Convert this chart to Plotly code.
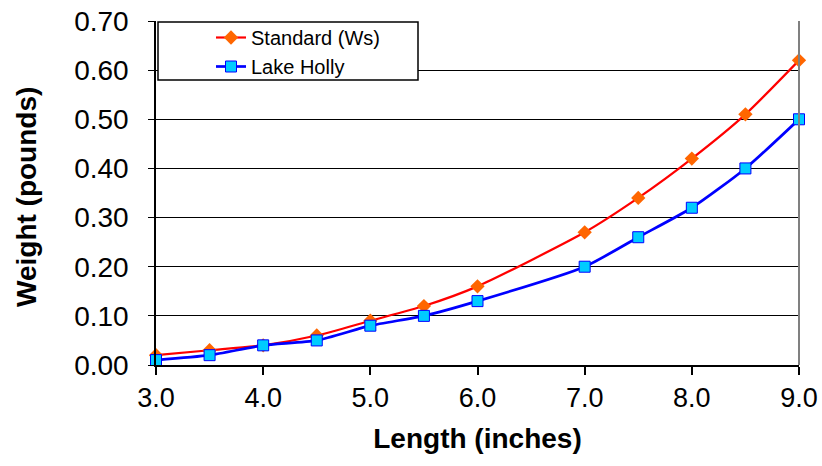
import plotly.graph_objects as go

length = [3.0, 3.5, 4.0, 4.5, 5.0, 5.5, 6.0, 7.0, 7.5, 8.0, 8.5, 9.0]
standard_ws = [0.02, 0.03, 0.04, 0.06, 0.09, 0.12, 0.16, 0.27, 0.34, 0.42, 0.51, 0.62]
lake_holly = [0.01, 0.02, 0.04, 0.05, 0.08, 0.10, 0.13, 0.20, 0.26, 0.32, 0.40, 0.50]

x_ticks = [3, 4, 5, 6, 7, 8, 9]
y_ticks = [0, 0.1, 0.2, 0.3, 0.4, 0.5, 0.6, 0.7]

FONT = "Arial, Liberation Sans, sans-serif"

fig = go.Figure()
fig.add_trace(go.Scatter(
    x=length, y=standard_ws, name="Standard (Ws)", mode="lines+markers",
    line=dict(color="#FF0000", width=2.2, shape="spline", smoothing=0.6),
    marker=dict(symbol="diamond", size=11, color="#FF6600", line=dict(width=0)),
    cliponaxis=False,
))
fig.add_trace(go.Scatter(
    x=length, y=lake_holly, name="Lake Holly", mode="lines+markers",
    line=dict(color="#0000FF", width=2.7, shape="spline", smoothing=0.6),
    marker=dict(symbol="square", size=11, color="#00CCFF", line=dict(color="#0000FF", width=1)),
    cliponaxis=False,
))

# legend box
fig.add_shape(type="rect", xref="paper", yref="paper",
              x0=(158-156)/643, x1=(418-156)/643, y0=(365-80)/344, y1=(365-22)/344,
              line=dict(color="black", width=1.5), fillcolor="white", layer="above")
# right border
fig.add_shape(type="line", xref="paper", yref="paper", x0=1, x1=1, y0=0, y1=1,
              line=dict(color="#808080", width=2))

fig.add_annotation(text="<b>Weight (pounds)</b>", xref="paper", yref="paper",
                   x=(26-156)/643, y=(365-197)/344, textangle=-90, showarrow=False,
                   xanchor="center", yanchor="middle",
                   font=dict(size=28, family=FONT, color="black"))

fig.update_layout(
    width=822, height=466,
    margin=dict(l=156, r=23, t=21, b=101),
    paper_bgcolor="white", plot_bgcolor="white",
    font=dict(family=FONT, color="black"),
    showlegend=True,
    legend=dict(x=(211-156)/643, y=(365-18)/344, xanchor="left", yanchor="top",
                bgcolor="rgba(0,0,0,0)", borderwidth=0,
                font=dict(size=20, family=FONT), tracegroupgap=0, itemwidth=30),
    xaxis=dict(range=[3, 9], tickvals=x_ticks, ticktext=[f"{v:.1f}" for v in x_ticks],
               automargin=False,
               showgrid=False, zeroline=False, showline=True, linecolor="black", linewidth=1.5,
               ticks="outside", ticklen=8, tickcolor="black", tickwidth=1.5,
               tickfont=dict(size=27, family=FONT),
               title=dict(text="<b>Length (inches)</b>", font=dict(size=28, family=FONT), standoff=16)),
    yaxis=dict(range=[0, 0.7], tickvals=y_ticks, ticktext=[f"{v:.2f}" for v in y_ticks],
               automargin=False,
               showgrid=True, gridcolor="black", gridwidth=1, zeroline=False,
               showline=True, linecolor="black", linewidth=1.5,
               ticks="outside", ticklen=6, tickcolor="black", tickwidth=1,
               ticklabelstandoff=14,
               tickfont=dict(size=28, family=FONT)),
)

fig.write_html("out.html")
